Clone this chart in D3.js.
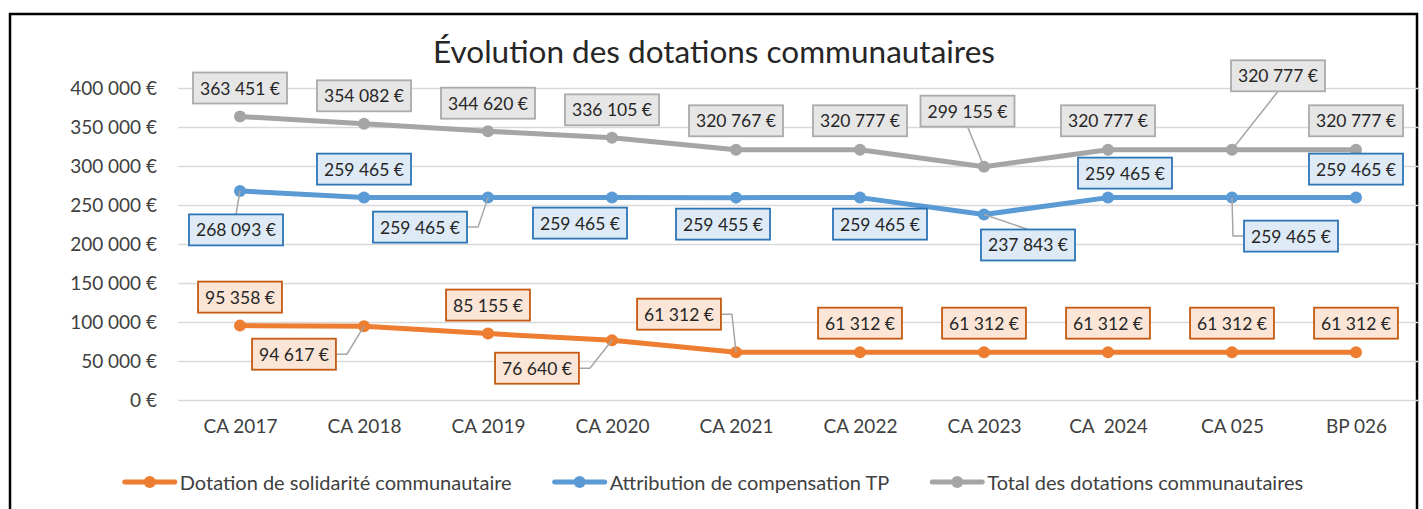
<!DOCTYPE html>
<html>
<head>
<meta charset="utf-8">
<script src="https://cdn.jsdelivr.net/npm/d3@7"></script>
<style>
  html, body { margin: 0; padding: 0; background: #fff; }
  svg { display: block; }
  text { font-family: Lato, "Open Sans", sans-serif; }
</style>
</head>
<body>
<svg id="chart" width="1423" height="509"></svg>
<script>
// ---------- DATA ----------
const categories = ["CA 2017", "CA 2018", "CA 2019", "CA 2020", "CA 2021", "CA 2022", "CA 2023", "CA  2024", "CA 025", "BP 026"];
const dotationSolidarite = [95358, 94617, 85155, 76640, 61312, 61312, 61312, 61312, 61312, 61312];
const attributionCompensation = [268093, 259465, 259465, 259465, 259455, 259465, 237843, 259465, 259465, 259465];
const totalDotations = [363451, 354082, 344620, 336105, 320767, 320777, 299155, 320777, 320777, 320777];
const yTickValues = [0, 50000, 100000, 150000, 200000, 250000, 300000, 350000, 400000];
const seriesNames = ["Dotation de solidarité communautaire", "Attribution de compensation TP", "Total des dotations communautaires"];
const chartTitle = "Évolution des dotations communautaires";

// ---------- LAYOUT (label placement relative to each point: dx, dy, leader type) ----------
const labelPlacementSolidarite = [
  [0, -28.5, null], [-70, 28, "side"], [0, -28.5, null], [-75, 28, "side"], [-57, -38, "side"],
  [0, -29, null], [0, -29, null], [0, -29, null], [0, -29, null], [0, -29, null]
];
const labelPlacementCompensation = [
  [-4, 39, "vert"], [0, -28.5, null], [-68, 29.5, "side"], [-32, 25.5, null], [-13, 26.5, null],
  [20, 26.5, null], [44, 30.5, "vert"], [17, -24.5, null], [59, 38.5, "side"], [0, -28.5, null]
];
const labelPlacementTotal = [
  [0, -28.5, null], [0, -28, null], [0, -28, null], [0, -28, null], [0, -29, null],
  [0, -29, null], [-16.5, -55.5, "vert"], [0, -29, null], [46, -74, "vert"], [0, -29, null]
];

// ---------- CHART ----------
const svg = d3.select("#chart");
const plot = { left: 178, right: 1418, top: 88, bottom: 400 };

const fr = d3.formatLocale({ decimal: ",", thousands: "\u00a0", grouping: [3], currency: ["", "\u00a0€"] });
const fmt = fr.format("$,.0f");

const x = d3.scalePoint().domain(categories).range([plot.left, plot.right]).padding(0.5);
const y = d3.scaleLinear().domain([0, 400000]).range([plot.bottom, plot.top]);

// frame
svg.append("rect").attr("x", 10).attr("y", 14).attr("width", 1407).attr("height", 520)
  .attr("fill", "#fff").attr("stroke", "#000").attr("stroke-width", 2.5);

// title
svg.append("text").attr("x", 714).attr("y", 63).attr("text-anchor", "middle")
  .attr("font-size", 31.5).attr("fill", "#262626").text(chartTitle);

// gridlines + y axis
const yAxis = d3.axisLeft(y).tickValues(yTickValues).tickFormat(fmt).tickSize(-(plot.right - plot.left)).tickPadding(21);
const gy = svg.append("g").attr("transform", `translate(${plot.left},0)`).call(yAxis);
gy.select(".domain").remove();
gy.selectAll(".tick line").attr("stroke", "#D9D9D9").attr("stroke-width", 1.5);
gy.selectAll(".tick text").attr("font-size", 19).attr("fill", "#404040").attr("font-family", "Lato, sans-serif");

// x axis
const xAxis = d3.axisBottom(x).tickSize(0).tickPadding(20);
const gx = svg.append("g").attr("transform", `translate(0,${plot.bottom})`).call(xAxis);
gx.select(".domain").remove();
gx.selectAll(".tick text").attr("font-size", 19).attr("fill", "#404040")
  .attr("font-family", "Lato, sans-serif").style("white-space", "pre");

const series = [
  { name: seriesNames[0], values: dotationSolidarite, color: "#ED7D31", boxFill: "#FBE5D6", boxStroke: "#C55A11", place: labelPlacementSolidarite },
  { name: seriesNames[1], values: attributionCompensation, color: "#5B9BD5", boxFill: "#DEEBF7", boxStroke: "#2E75B6", place: labelPlacementCompensation },
  { name: seriesNames[2], values: totalDotations, color: "#A5A5A5", boxFill: "#E7E6E6", boxStroke: "#ABABAB", place: labelPlacementTotal }
];

const line = d3.line().x((d, i) => x(categories[i])).y(d => y(d));

const gLines = svg.append("g");
series.forEach(s => {
  gLines.append("path").datum(s.values).attr("d", line).attr("fill", "none")
    .attr("stroke", s.color).attr("stroke-width", 5).attr("stroke-linejoin", "round").attr("stroke-linecap", "round");
  gLines.selectAll(null).data(s.values).enter().append("circle")
    .attr("cx", (d, i) => x(categories[i])).attr("cy", d => y(d)).attr("r", 6).attr("fill", s.color);
});

// labels
const gLead = svg.append("g");
const gLab = svg.append("g");
const boxH = 31, padX = 7;
series.forEach(s => {
  s.values.forEach((v, i) => {
    const px = x(categories[i]), py = y(v);
    const [dx, dy, leader] = s.place[i];
    const cx = px + dx, cy = py + dy;
    const g = gLab.append("g");
    const rect = g.append("rect");
    const t = g.append("text").attr("x", cx).attr("y", cy).attr("text-anchor", "middle")
      .attr("dominant-baseline", "central").attr("font-size", 17.5).attr("fill", "#262626").text(fmt(v));
    const tw = t.node().getComputedTextLength();
    const bw = tw + 2 * padX;
    rect.attr("x", cx - bw / 2).attr("y", cy - boxH / 2).attr("width", bw).attr("height", boxH)
      .attr("fill", s.boxFill).attr("stroke", s.boxStroke).attr("stroke-width", 1.8);
    if (leader === "side") {
      const sign = px < cx ? -1 : 1;
      const ex = cx + sign * bw / 2;
      const sx = ex + sign * 11;
      gLead.append("polyline").attr("points", `${ex},${cy} ${sx},${cy} ${px},${py}`)
        .attr("fill", "none").attr("stroke", "#A6A6A6").attr("stroke-width", 1.5);
    } else if (leader === "vert") {
      const ey = py < cy ? cy - boxH / 2 : cy + boxH / 2;
      gLead.append("line").attr("x1", cx).attr("y1", ey).attr("x2", px).attr("y2", py)
        .attr("stroke", "#A6A6A6").attr("stroke-width", 1.5);
    }
  });
});

// legend (centered)
const legendY = 482;
const gLeg = svg.append("g");
const items = series.map(s => {
  const g = gLeg.append("g");
  g.append("line").attr("x1", 0).attr("x2", 50).attr("y1", 0).attr("y2", 0)
    .attr("stroke", s.color).attr("stroke-width", 5).attr("stroke-linecap", "round");
  g.append("circle").attr("cx", 25).attr("cy", 0).attr("r", 6).attr("fill", s.color);
  const t = g.append("text").attr("x", 55).attr("y", 0).attr("dominant-baseline", "central")
    .attr("font-size", 20).attr("fill", "#404040").text(s.name);
  return { g, w: 55 + t.node().getComputedTextLength() };
});
const gap = 43;
const total = d3.sum(items, d => d.w) + gap * (items.length - 1);
let lx = 714 - total / 2;
items.forEach(it => { it.g.attr("transform", `translate(${lx},${legendY})`); lx += it.w + gap; });
</script>
</body>
</html>
